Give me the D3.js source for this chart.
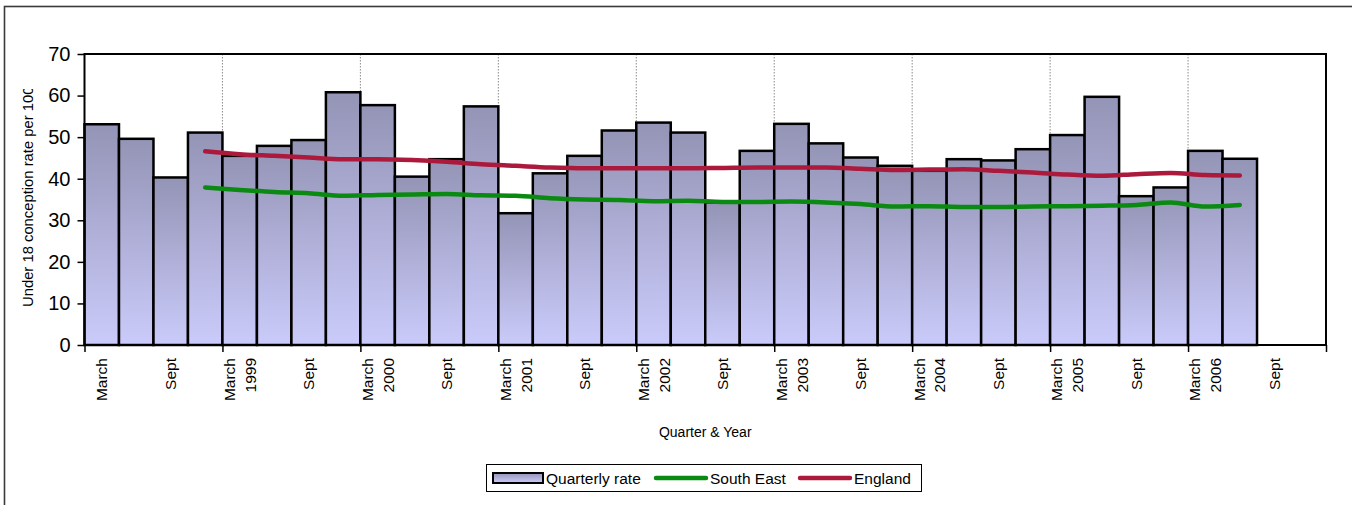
<!DOCTYPE html>
<html>
<head>
<meta charset="utf-8">
<script src="https://cdn.jsdelivr.net/npm/d3@7"></script>
<style>
  body { margin: 0; background: #fff; }
  svg { display: block; font-family: "Liberation Sans", Arial, sans-serif; }
</style>
</head>
<body>
<svg id="chart" width="1352" height="505"></svg>
<script>
// Quarters, March 1998 to December 2006
const categories = [
  "Mar 1998","Jun 1998","Sep 1998","Dec 1998",
  "Mar 1999","Jun 1999","Sep 1999","Dec 1999",
  "Mar 2000","Jun 2000","Sep 2000","Dec 2000",
  "Mar 2001","Jun 2001","Sep 2001","Dec 2001",
  "Mar 2002","Jun 2002","Sep 2002","Dec 2002",
  "Mar 2003","Jun 2003","Sep 2003","Dec 2003",
  "Mar 2004","Jun 2004","Sep 2004","Dec 2004",
  "Mar 2005","Jun 2005","Sep 2005","Dec 2005",
  "Mar 2006","Jun 2006","Sep 2006","Dec 2006"
];

// Axis labels for each quarter (empty = unlabeled)
const tickLabels = [
  ["March"], [], ["Sept"], [],
  ["March","1999"], [], ["Sept"], [],
  ["March","2000"], [], ["Sept"], [],
  ["March","2001"], [], ["Sept"], [],
  ["March","2002"], [], ["Sept"], [],
  ["March","2003"], [], ["Sept"], [],
  ["March","2004"], [], ["Sept"], [],
  ["March","2005"], [], ["Sept"], [],
  ["March","2006"], [], ["Sept"], []
];

// Quarterly under-18 conception rate per 1000
const quarterlyRate = [
  53.1, 49.6, 40.3, 51.1,
  45.5, 47.9, 49.3, 60.8,
  57.7, 40.5, 44.7, 57.4,
  31.7, 41.3, 45.5, 51.6,
  53.5, 51.1, 34.3, 46.7,
  53.2, 48.5, 45.1, 43.1,
  41.9, 44.7, 44.4, 47.1,
  50.5, 59.7, 35.8, 37.9,
  46.7, 44.8
];

// Rolling rates for comparison areas
const southEast = [
  null, null, null, 37.9,
  37.3, 36.8, 36.5, 35.9,
  36.1, 36.2, 36.3, 36.0,
  35.9, 35.3, 35.0, 34.9,
  34.6, 34.7, 34.4, 34.4,
  34.5, 34.3, 33.9, 33.3,
  33.4, 33.2, 33.2, 33.3,
  33.4, 33.5, 33.7, 34.3,
  33.3, 33.7
];

const england = [
  null, null, null, 46.6,
  45.9, 45.5, 45.1, 44.7,
  44.7, 44.5, 44.1, 43.5,
  43.1, 42.7, 42.5, 42.5,
  42.5, 42.5, 42.6, 42.7,
  42.7, 42.7, 42.4, 42.1,
  42.2, 42.3, 41.9, 41.5,
  41.0, 40.7, 41.1, 41.4,
  40.9, 40.8
];

const yTicks = [0, 10, 20, 30, 40, 50, 60, 70];

const svg = d3.select("#chart");
const plot = { left: 84.5, right: 1326, top: 54, bottom: 345 };

const x = d3.scaleBand().domain(categories).range([plot.left, plot.right]).padding(0);
const y = d3.scaleLinear().domain([0, 70]).range([plot.bottom, plot.top]);
// boundary scale for tick marks / gridlines between quarters
const xb = d3.scaleLinear().domain([0, categories.length]).range([plot.left, plot.right]);

// gradient for bars
const defs = svg.append("defs");
const grad = defs.append("linearGradient").attr("id", "barFill")
  .attr("x1", 0).attr("y1", 0).attr("x2", 0).attr("y2", 1);
grad.append("stop").attr("offset", "0%").attr("stop-color", "#9494b6");
grad.append("stop").attr("offset", "100%").attr("stop-color", "#cbcbfb");

defs.append("clipPath").attr("id", "ylabClip")
  .append("rect").attr("x", 0).attr("y", 89).attr("width", 60).attr("height", 300);

// outer chart frame
svg.append("rect")
  .attr("x", 4.5).attr("y", 6.5).attr("width", 1400).attr("height", 600)
  .attr("fill", "none").attr("stroke", "#3a3a3a").attr("stroke-width", 1.6);

// vertical dotted gridlines every year
const gridIdx = d3.range(4, categories.length, 4);
svg.append("g").selectAll("line").data(gridIdx).join("line")
  .attr("x1", d => xb(d)).attr("x2", d => xb(d))
  .attr("y1", plot.top).attr("y2", plot.bottom)
  .attr("stroke", "#8a8a8a").attr("stroke-width", 1).attr("stroke-dasharray", "1.5,1.5");

// bars
svg.append("g").selectAll("rect").data(quarterlyRate).join("rect")
  .attr("x", (d, i) => x(categories[i]))
  .attr("y", d => y(d))
  .attr("width", x.bandwidth())
  .attr("height", d => y(0) - y(d))
  .attr("fill", "url(#barFill)")
  .attr("stroke", "#000").attr("stroke-width", 2.5);

// plot frame
svg.append("rect")
  .attr("x", plot.left).attr("y", plot.top)
  .attr("width", plot.right - plot.left).attr("height", plot.bottom - plot.top)
  .attr("fill", "none").attr("stroke", "#000").attr("stroke-width", 2);

// y axis
const yAxis = d3.axisLeft(y).tickValues(yTicks).tickSize(7).tickPadding(7).tickFormat(d3.format("d"));
const gy = svg.append("g").attr("transform", `translate(${plot.left},0)`).call(yAxis);
gy.select(".domain").remove();
gy.selectAll(".tick line").attr("stroke", "#000").attr("stroke-width", 1.5);
gy.selectAll(".tick text").attr("font-size", 20).attr("fill", "#000")
  .attr("font-family", "'Liberation Sans', Arial, sans-serif");

// x axis tick marks at year boundaries
const xAxis = d3.axisBottom(xb).tickValues(d3.range(0, categories.length + 1, 4)).tickSize(7).tickFormat("");
const gx = svg.append("g").attr("transform", `translate(0,${plot.bottom})`).call(xAxis);
gx.select(".domain").remove();
gx.selectAll(".tick line").attr("stroke", "#000").attr("stroke-width", 1.5);

// x tick labels, rotated
const lineGap = 21;
const labels = svg.append("g").attr("font-size", 15.5).attr("fill", "#000");
tickLabels.forEach((lines, i) => {
  if (!lines.length) return;
  const cx = x(categories[i]) + x.bandwidth() / 2;
  const t = labels.append("text")
    .attr("transform", `translate(${cx},358) rotate(-90)`)
    .attr("text-anchor", "end");
  const offset = -(lines.length - 1) * lineGap / 2;
  lines.forEach((s, k) => {
    t.append("tspan").attr("x", 0)
      .attr("y", offset + k * lineGap)
      .attr("dy", "0.36em")
      .text(s);
  });
});

// trend lines
const line = d3.line()
  .defined(d => d != null)
  .x((d, i) => x(categories[i]) + x.bandwidth() / 2)
  .y(d => y(d))
  .curve(d3.curveMonotoneX);

svg.append("path").datum(southEast)
  .attr("d", line).attr("fill", "none")
  .attr("stroke", "#0a8a10").attr("stroke-width", 4.5)
  .attr("stroke-linecap", "round").attr("stroke-linejoin", "round");

svg.append("path").datum(england)
  .attr("d", line).attr("fill", "none")
  .attr("stroke", "#ab1a3c").attr("stroke-width", 4.5)
  .attr("stroke-linecap", "round").attr("stroke-linejoin", "round");

// axis titles
svg.append("text")
  .attr("x", (plot.left + plot.right) / 2).attr("y", 437)
  .attr("text-anchor", "middle").attr("font-size", 14).attr("fill", "#000")
  .text("Quarter & Year");

svg.append("g").attr("clip-path", "url(#ylabClip)")
  .append("text")
  .attr("transform", "translate(33,307) rotate(-90)")
  .attr("text-anchor", "start").attr("font-size", 14.8).attr("fill", "#000")
  .text("Under 18 conception rate per 1000");

// legend
const lg = svg.append("g").attr("font-size", 15.5).attr("fill", "#000");
lg.append("rect").attr("x", 486.5).attr("y", 464.5).attr("width", 435).attr("height", 27)
  .attr("fill", "#fff").attr("stroke", "#000").attr("stroke-width", 1);
lg.append("rect").attr("x", 493).attr("y", 473).attr("width", 50).attr("height", 10)
  .attr("fill", "url(#barFill)").attr("stroke", "#000").attr("stroke-width", 2);
lg.append("text").attr("x", 546).attr("y", 484).text("Quarterly rate");
lg.append("line").attr("x1", 656).attr("x2", 706).attr("y1", 478).attr("y2", 478)
  .attr("stroke", "#0a8a10").attr("stroke-width", 4.5).attr("stroke-linecap", "round");
lg.append("text").attr("x", 710).attr("y", 484).text("South East");
lg.append("line").attr("x1", 800).attr("x2", 850).attr("y1", 478).attr("y2", 478)
  .attr("stroke", "#ab1a3c").attr("stroke-width", 4.5).attr("stroke-linecap", "round");
lg.append("text").attr("x", 854).attr("y", 484).text("England");
</script>
</body>
</html>
